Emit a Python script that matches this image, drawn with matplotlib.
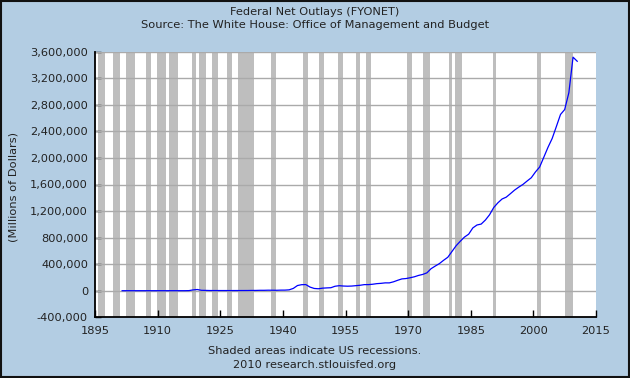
import matplotlib
matplotlib.use("Agg")
import matplotlib.pyplot as plt
from matplotlib.patches import Rectangle
from matplotlib.ticker import FuncFormatter

# fiscal years and federal net outlays (millions of dollars)
years = list(range(1901, 2011))
outlays = [
    525, 485, 517, 584, 567, 570, 579, 659, 694, 694,
    691, 690, 715, 726, 746, 713, 1954, 12677, 18493, 6358,
    5062, 3289, 3140, 2908, 2924, 2930, 2857, 2961, 3127, 3320,
    3577, 4659, 4598, 6541, 6412, 8228, 7580, 6840, 9141, 9468,
    13653, 35137, 78555, 91304, 92712, 55232, 34496, 29764, 38835, 42562,
    45514, 67686, 76101, 70855, 68444, 70640, 76578, 82405, 92098, 92191,
    97723, 106821, 111316, 118528, 118228, 134532, 157464, 178134, 183640, 195649,
    210172, 230681, 245707, 269359, 332332, 371792, 409218, 458746, 504028, 590941,
    678241, 745743, 808364, 851805, 946344, 990382, 1004017, 1064416, 1143744, 1252993,
    1324226, 1381529, 1409386, 1461752, 1515742, 1560484, 1601116, 1652458, 1701842, 1788950,
    1862846, 2010894, 2159899, 2292841, 2471957, 2655050, 2728686, 2982544, 3517677, 3456213,
]

# recession shading (start, end) in decimal years
rec_start = [1895.8, 1899.2, 1902.5, 1907.1, 1909.9, 1912.8, 1918.3, 1919.8, 1923.1,
             1926.7, 1929.3, 1937.2, 1944.9, 1948.7, 1953.3, 1957.4, 1960.0, 1969.8,
             1973.6, 1979.9, 1981.3, 1990.4, 2000.9, 2007.6]
rec_end = [1897.5, 1901.0, 1904.7, 1908.5, 1912.1, 1914.9, 1919.3, 1921.7, 1924.5,
           1927.9, 1933.1, 1938.4, 1945.9, 1949.9, 1954.5, 1958.4, 1961.2, 1971.0,
           1975.3, 1980.6, 1983.0, 1991.1, 2001.9, 2009.5]

xticks = list(range(1895, 2016, 15))
yticks = list(range(-400000, 3600001, 400000))

bg = "#b3cde3"
txt = "#222222"
fs = 8.2

fig = plt.figure(figsize=(6.3, 3.78), dpi=100, facecolor=bg)
ax = fig.add_axes([95 / 630, 1 - 317.3 / 378, 501 / 630, 265.6 / 378])
ax.set_facecolor("white")

for s, e in zip(rec_start, rec_end):
    ax.axvspan(s, e, color="#bebebe", lw=0, zorder=1)

for y in yticks:
    ax.axhline(y, color="#aaaaaa", lw=1.0, zorder=2)

ax.plot([y + 0.5 for y in years], outlays, color="#0000ff", lw=0.9, zorder=3)

ax.set_xlim(1895, 2015)
ax.set_ylim(-400000, 3600000)
ax.set_xticks(xticks)
ax.set_yticks(yticks)
ax.yaxis.set_major_formatter(FuncFormatter(lambda v, p: "{:,}".format(int(v))))

for side in ["top", "right"]:
    ax.spines[side].set_visible(False)
ax.spines["left"].set_linewidth(1.3)
ax.spines["bottom"].set_linewidth(1.3)
ax.spines["left"].set_zorder(4)
ax.spines["bottom"].set_zorder(4)
ax.tick_params(direction="in", width=1, colors="black", labelsize=fs, labelcolor=txt)
ax.tick_params(axis="x", length=5, pad=6.5)
ax.tick_params(axis="y", length=4, pad=5)

ax.set_ylabel("(Millions of Dollars)", fontsize=fs, color=txt)
ax.yaxis.set_label_coords((19 - 95) / 501, 0.49)

fig.text(0.5, 1 - 12 / 378, "Federal Net Outlays (FYONET)", ha="center", va="center",
         fontsize=fs, color=txt)
fig.text(0.5, 1 - 25 / 378, "Source: The White House: Office of Management and Budget",
         ha="center", va="center", fontsize=fs, color=txt)
fig.text(0.5, 1 - 351 / 378, "Shaded areas indicate US recessions.", ha="center",
         va="center", fontsize=fs, color=txt)
fig.text(0.5, 1 - 365 / 378, "2010 research.stlouisfed.org", ha="center", va="center",
         fontsize=fs, color=txt)

# dark outer border
fig.patches.append(Rectangle((0.001, 0.002), 0.997, 0.996, transform=fig.transFigure,
                             fill=False, edgecolor="#111111", lw=1.5))

fig.savefig("out.png", dpi=100, facecolor=bg)
